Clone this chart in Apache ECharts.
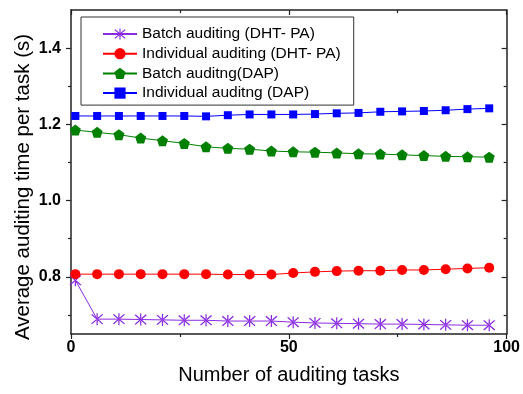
<!DOCTYPE html>
<html>
<head>
<meta charset="utf-8">
<script src="https://cdn.jsdelivr.net/npm/echarts@6/dist/echarts.min.js"></script>
<style>html,body{margin:0;padding:0;background:#fff}#c{width:523px;height:394px}</style>
</head>
<body>
<div id="c"></div>
<script>
const xTasks = [1, 6, 11, 16, 21, 26, 31, 36, 41, 46, 51, 56, 61, 66, 71, 76, 81, 86, 91, 96];
const batchDHT = [0.791, 0.689, 0.689, 0.688, 0.687, 0.686, 0.686, 0.684, 0.684, 0.684, 0.681, 0.679, 0.678, 0.677, 0.676, 0.676, 0.675, 0.674, 0.673, 0.673];
const indivDHT = [0.807, 0.807, 0.807, 0.807, 0.807, 0.807, 0.807, 0.806, 0.806, 0.806, 0.810, 0.813, 0.815, 0.816, 0.816, 0.818, 0.818, 0.820, 0.822, 0.824];
const batchDAP = [1.185, 1.179, 1.173, 1.164, 1.157, 1.150, 1.141, 1.137, 1.135, 1.130, 1.128, 1.127, 1.125, 1.123, 1.122, 1.120, 1.118, 1.116, 1.115, 1.114];
const indivDAP = [1.222, 1.222, 1.222, 1.222, 1.222, 1.222, 1.221, 1.224, 1.226, 1.226, 1.226, 1.227, 1.229, 1.230, 1.233, 1.234, 1.235, 1.237, 1.240, 1.242];
const seriesNames = ['Batch auditing (DHT- PA)', 'Individual auditing (DHT- PA)', 'Batch auditng(DAP)', 'Individual auditng (DAP)'];
const yMajorTicks = [0.8, 1.0, 1.2, 1.4];
const yMinorTicks = [0.7, 0.9, 1.1, 1.3];
const xTitle = 'Number of auditing tasks';
const yTitle = 'Average auditing time per task (s)';

const FONT = 'Arial, "Liberation Sans", sans-serif';
const AX = '#222';
const starPath = 'path://M9.1 0 L10.9 0 L10.9 20 L9.1 20 Z M1.3 2.7 L2.7 1.3 L18.7 17.3 L17.3 18.7 Z M18.7 2.7 L17.3 1.3 L1.3 17.3 L2.7 18.7 Z';
const pentPath = 'path://M10 0 L19.5 6.9 L15.9 18.1 L4.1 18.1 L0.5 6.9 Z';

function pairs(ys) { return xTasks.map((x, i) => [x, ys[i]]); }

function yAx(pos, ticks, len, inside, labels, line) {
  return {
    type: 'value', min: 0.65, max: 1.5, position: pos,
    axisLine: { show: line, onZero: false, lineStyle: { color: AX, width: 1.5 } },
    axisTick: { show: true, inside: inside, length: len, customValues: ticks, lineStyle: { color: AX, width: 1.2 } },
    axisLabel: labels ? { show: true, customValues: ticks, formatter: v => v.toFixed(1), fontFamily: FONT, fontWeight: 'bold', fontSize: 16, color: '#000', margin: 10 } : { show: false },
    splitLine: { show: false }
  };
}
function xAx(pos, inside, labels, name) {
  return {
    type: 'value', min: 0, max: 100, interval: 50, position: pos,
    axisLine: { show: true, onZero: false, lineStyle: { color: AX, width: 1.5 } },
    axisTick: { show: true, inside: inside, length: 5, lineStyle: { color: AX, width: 1.2 } },
    minorTick: { show: true, splitNumber: 2, length: 3, lineStyle: { color: AX, width: 1.2 } },
    axisLabel: labels ? { show: true, fontFamily: FONT, fontWeight: 'bold', fontSize: 16, color: '#000', margin: 6 } : { show: false },
    splitLine: { show: false }, minorSplitLine: { show: false },
    name: name || '', nameLocation: 'middle', nameGap: 31,
    nameTextStyle: { fontFamily: FONT, fontSize: 20, color: '#000' }
  };
}

const colors = ['#8A2BE2', '#FF0000', '#008000', '#0000FF'];
const symbols = [starPath, 'circle', pentPath, 'rect'];
const sizes = [12, 10, 11, 8];
const datas = [batchDHT, indivDHT, batchDAP, indivDAP];

const chart = echarts.init(document.getElementById('c'), null, { renderer: 'canvas' });
chart.setOption({
  animation: false,
  backgroundColor: '#fff',
  grid: { left: 71, top: 10, width: 438, height: 324 },
  xAxis: [xAx('bottom', false, true, xTitle), xAx('top', true, false)],
  yAxis: [
    yAx('left', yMajorTicks, 5, false, true, true),
    yAx('left', yMinorTicks, 3, false, false, false),
    yAx('right', yMajorTicks, 5, true, false, true),
    yAx('right', yMinorTicks, 3, true, false, false)
  ],
  legend: {
    left: 81, top: 17, orient: 'vertical',
    padding: [9, 13, 4, 21],
    borderColor: '#333', borderWidth: 1,
    itemWidth: 34, itemHeight: 14, itemGap: 3.7,
    textStyle: { fontFamily: FONT, fontSize: 15.5, color: '#000', lineHeight: 15 },
    data: seriesNames
  },
  graphic: [{
    type: 'text', x: 23, y: 187, rotation: Math.PI / 2,
    style: { text: yTitle, font: '20.5px ' + FONT, fill: '#000', align: 'center', verticalAlign: 'middle' }
  }],
  series: seriesNames.map((n, i) => ({
    name: n, type: 'line', xAxisIndex: 0, yAxisIndex: 0,
    data: pairs(datas[i]),
    symbol: symbols[i], symbolSize: sizes[i], showAllSymbol: true,
    itemStyle: { color: colors[i] },
    lineStyle: { color: colors[i], width: 1 },
    clip: false
  }))
});
</script>
</body>
</html>
